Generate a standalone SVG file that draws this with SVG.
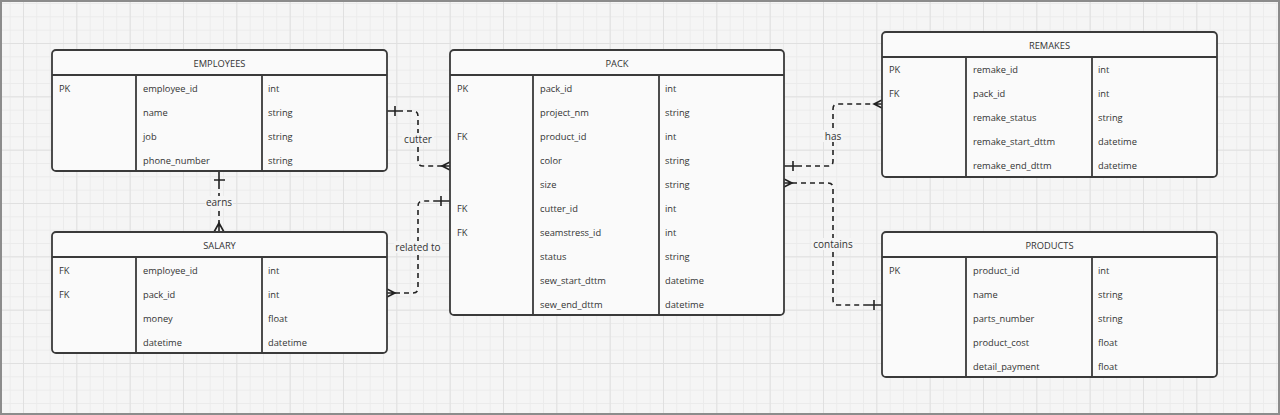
<svg xmlns="http://www.w3.org/2000/svg" width="1280" height="415" viewBox="0 0 1280 415">
<defs>
<pattern id="minor" patternUnits="userSpaceOnUse" x="23" y="43" width="13.333" height="13.333">
<path d="M0,0.5 H13.333 M0.5,0 V13.333" stroke="#ebebeb" stroke-width="1" fill="none"/>
</pattern>
<pattern id="major" patternUnits="userSpaceOnUse" x="23" y="43" width="53.333" height="53.333">
<path d="M0,0.5 H53.333 M0.5,0 V53.333" stroke="#e0e0e0" stroke-width="1" fill="none"/>
</pattern>
<style>
.box{fill:#fafafa;stroke:#3a3a3a;stroke-width:1.8}
.div{stroke:#3a3a3a;stroke-width:1.8;fill:none}
.t{font-family:"Open Sans","DejaVu Sans",sans-serif;font-size:9.3px;fill:#333;dominant-baseline:central}
.h{font-family:"Open Sans","DejaVu Sans",sans-serif;font-size:9.3px;fill:#333;dominant-baseline:central;text-anchor:middle}
.lbl{font-family:"Open Sans","DejaVu Sans",sans-serif;font-size:10px;fill:#333;dominant-baseline:central;text-anchor:middle}
.lb{fill:#f5f5f5}
.dash{fill:none;stroke:#222;stroke-width:1.6;stroke-dasharray:5 4}
.sol{fill:none;stroke:#222;stroke-width:1.6}
</style>
</defs>
<rect x="0" y="0" width="1280" height="415" fill="#f5f5f5"/>
<rect x="0" y="0" width="1280" height="415" fill="url(#minor)"/>
<rect x="0" y="0" width="1280" height="415" fill="url(#major)"/>
<rect x="1" y="1" width="1278" height="413" fill="none" stroke="#8c8c8c" stroke-width="2"/>

<g id="connectors">
<!-- cutter -->
<path class="sol" d="M387,111 H398 M395,106 V116"/>
<path class="dash" d="M398,111 H413 Q418,111 418,116 V161 Q418,166 423,166 H442"/>
<path class="sol" d="M450,162 L442,166 L450,170 M442,166 H450"/>
<!-- earns -->
<path class="sol" d="M219,171 V184 M214,180 H225"/>
<path class="dash" d="M219,184 V223"/>
<path class="sol" d="M214,232 L219,223 L224,232 M219,223 V232"/>
<!-- related to -->
<path class="sol" d="M387,289 L395,293 L387,297 M387,293 H395"/>
<path class="dash" d="M395,293 H413 Q418,293 418,288 V206 Q418,201 423,201 H436"/>
<path class="sol" d="M436,201 H450 M441,196 V206"/>
<!-- has -->
<path class="sol" d="M784,166 H797 M793,161 V171"/>
<path class="dash" d="M797,166 H828 Q833,166 833,161 V109 Q833,104 838,104 H874"/>
<path class="sol" d="M882,100 L874,104 L882,108 M874,104 H882"/>
<!-- contains -->
<path class="sol" d="M784,179 L792,183 L784,187 M784,183 H792"/>
<path class="dash" d="M792,183 H828 Q833,183 833,188 V300 Q833,305 838,305 H868"/>
<path class="sol" d="M868,305 H882 M874,300 V310"/>
<!-- labels -->
<rect class="lb" x="402" y="133" width="32" height="12"/>
<text class="lbl" x="418" y="139">cutter</text>
<rect class="lb" x="205" y="196" width="28" height="12"/>
<text class="lbl" x="219" y="202">earns</text>
<rect class="lb" x="394" y="241" width="48" height="12"/>
<text class="lbl" x="418" y="247">related to</text>
<rect class="lb" x="823" y="130" width="20" height="12"/>
<text class="lbl" x="833" y="136">has</text>
<rect class="lb" x="812" y="238" width="42" height="12"/>
<text class="lbl" x="833" y="244">contains</text>
</g>

<g id="employees">
<rect class="box" x="52" y="50" width="335" height="121" rx="4"/>
<path class="div" d="M52,75 H387 M136,75 V171 M262,75 V171"/>
<text class="h" x="219.5" y="63">EMPLOYEES</text>
<text class="t" x="59" y="88">PK</text>
<text class="t" x="143" y="88">employee_id</text>
<text class="t" x="268" y="88">int</text>
<text class="t" x="143" y="112">name</text>
<text class="t" x="268" y="112">string</text>
<text class="t" x="143" y="136">job</text>
<text class="t" x="268" y="136">string</text>
<text class="t" x="143" y="160">phone_number</text>
<text class="t" x="268" y="160">string</text>
</g>

<g id="salary">
<rect class="box" x="52" y="232" width="335" height="121" rx="4"/>
<path class="div" d="M52,257 H387 M136,257 V353 M262,257 V353"/>
<text class="h" x="219.5" y="245">SALARY</text>
<text class="t" x="59" y="270">FK</text>
<text class="t" x="143" y="270">employee_id</text>
<text class="t" x="268" y="270">int</text>
<text class="t" x="59" y="294">FK</text>
<text class="t" x="143" y="294">pack_id</text>
<text class="t" x="268" y="294">int</text>
<text class="t" x="143" y="318">money</text>
<text class="t" x="268" y="318">float</text>
<text class="t" x="143" y="342">datetime</text>
<text class="t" x="268" y="342">datetime</text>
</g>

<g id="pack">
<rect class="box" x="450" y="50" width="334" height="265" rx="4"/>
<path class="div" d="M450,75 H784 M533,75 V315 M659,75 V315"/>
<text class="h" x="617" y="63">PACK</text>
<text class="t" x="457" y="88">PK</text>
<text class="t" x="540" y="88">pack_id</text>
<text class="t" x="665" y="88">int</text>
<text class="t" x="540" y="112">project_nm</text>
<text class="t" x="665" y="112">string</text>
<text class="t" x="457" y="136">FK</text>
<text class="t" x="540" y="136">product_id</text>
<text class="t" x="665" y="136">int</text>
<text class="t" x="540" y="160">color</text>
<text class="t" x="665" y="160">string</text>
<text class="t" x="540" y="184">size</text>
<text class="t" x="665" y="184">string</text>
<text class="t" x="457" y="208">FK</text>
<text class="t" x="540" y="208">cutter_id</text>
<text class="t" x="665" y="208">int</text>
<text class="t" x="457" y="232">FK</text>
<text class="t" x="540" y="232">seamstress_id</text>
<text class="t" x="665" y="232">int</text>
<text class="t" x="540" y="256">status</text>
<text class="t" x="665" y="256">string</text>
<text class="t" x="540" y="280">sew_start_dttm</text>
<text class="t" x="665" y="280">datetime</text>
<text class="t" x="540" y="304">sew_end_dttm</text>
<text class="t" x="665" y="304">datetime</text>
</g>

<g id="remakes">
<rect class="box" x="882" y="32" width="335" height="145" rx="4"/>
<path class="div" d="M882,57 H1217 M966,57 V177 M1092,57 V177"/>
<text class="h" x="1049.5" y="45">REMAKES</text>
<text class="t" x="889" y="69">PK</text>
<text class="t" x="973" y="69">remake_id</text>
<text class="t" x="1098" y="69">int</text>
<text class="t" x="889" y="93">FK</text>
<text class="t" x="973" y="93">pack_id</text>
<text class="t" x="1098" y="93">int</text>
<text class="t" x="973" y="117">remake_status</text>
<text class="t" x="1098" y="117">string</text>
<text class="t" x="973" y="141">remake_start_dttm</text>
<text class="t" x="1098" y="141">datetime</text>
<text class="t" x="973" y="165">remake_end_dttm</text>
<text class="t" x="1098" y="165">datetime</text>
</g>

<g id="products">
<rect class="box" x="882" y="232" width="335" height="145" rx="4"/>
<path class="div" d="M882,257 H1217 M966,257 V377 M1092,257 V377"/>
<text class="h" x="1049.5" y="245">PRODUCTS</text>
<text class="t" x="889" y="270">PK</text>
<text class="t" x="973" y="270">product_id</text>
<text class="t" x="1098" y="270">int</text>
<text class="t" x="973" y="294">name</text>
<text class="t" x="1098" y="294">string</text>
<text class="t" x="973" y="318">parts_number</text>
<text class="t" x="1098" y="318">string</text>
<text class="t" x="973" y="342">product_cost</text>
<text class="t" x="1098" y="342">float</text>
<text class="t" x="973" y="366">detail_payment</text>
<text class="t" x="1098" y="366">float</text>
</g>
</svg>
